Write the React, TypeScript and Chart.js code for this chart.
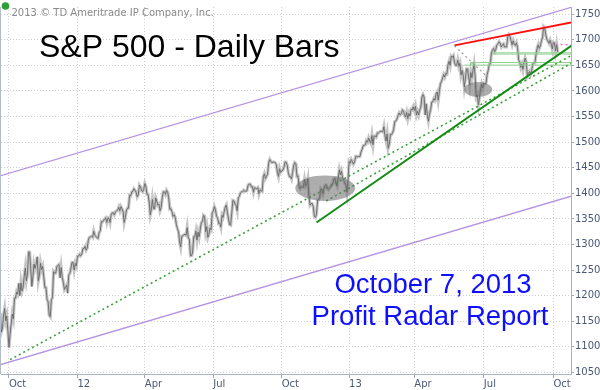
import React, { useEffect, useRef } from "react";
import { Chart, registerables } from "chart.js";

Chart.register(...registerables);

// ---- axis definitions (trading-day index, 0 = Oct 3 2011) ----
const TICK_INDEX = [0, 63, 125, 188, 251, 313, 373, 437, 501];
const TICK_LABELS = ["Oct", "12", "Apr", "Jul", "Oct", "13", "Apr", "Jul", "Oct"];
const Y_TICKS = [1050, 1100, 1150, 1200, 1250, 1300, 1350, 1400, 1450, 1500, 1550, 1600, 1650, 1700, 1750];
const FIRST_INDEX = -8; // Sep 21 2011

// ---- daily closes, S&P 500 ----
const SEP_2011 = [1166, 1129, 1136, 1162, 1175, 1151, 1160, 1131];
const OCT_2011 = [1099, 1124, 1144, 1164, 1155, 1195, 1195, 1207, 1203, 1224, 1200, 1225, 1209, 1216, 1238, 1254, 1229, 1242, 1285, 1285, 1253];
const NOV_2011 = [1218, 1237, 1262, 1253, 1261, 1276, 1229, 1240, 1263, 1251, 1257, 1237, 1216, 1216, 1193, 1188, 1162, 1159, 1192, 1196, 1247];
const DEC_2011 = [1244, 1244, 1257, 1259, 1261, 1235, 1255, 1236, 1226, 1212, 1216, 1220, 1205, 1241, 1243, 1254, 1265, 1265, 1250, 1263, 1258];
const JAN_2012 = [1277, 1277, 1281, 1278, 1281, 1292, 1292, 1296, 1289, 1293, 1308, 1314, 1315, 1316, 1314, 1326, 1318, 1316, 1313, 1312];
const FEB_2012 = [1324, 1326, 1345, 1344, 1347, 1350, 1352, 1343, 1352, 1351, 1343, 1358, 1362, 1362, 1358, 1364, 1366, 1367, 1373, 1366];
const MAR_2012 = [1374, 1370, 1364, 1343, 1353, 1366, 1371, 1371, 1396, 1395, 1403, 1404, 1409, 1406, 1402, 1393, 1397, 1416, 1413, 1405, 1403, 1408];
const APR_2012 = [1419, 1413, 1398, 1398, 1383, 1358, 1368, 1388, 1370, 1370, 1391, 1385, 1377, 1379, 1366, 1372, 1391, 1403, 1403, 1398];
const MAY_2012 = [1406, 1402, 1391, 1369, 1370, 1364, 1355, 1358, 1353, 1339, 1331, 1325, 1305, 1295, 1316, 1317, 1319, 1320, 1318, 1333, 1313, 1310];
const JUN_2012 = [1278, 1278, 1285, 1315, 1315, 1326, 1309, 1324, 1315, 1329, 1343, 1345, 1357, 1355, 1325, 1335, 1314, 1320, 1332, 1329, 1362];
const JUL_2012 = [1365, 1374, 1368, 1355, 1352, 1341, 1342, 1334, 1357, 1353, 1364, 1373, 1377, 1363, 1350, 1339, 1338, 1361, 1386, 1385, 1379];
const AUG_2012 = [1376, 1366, 1391, 1394, 1401, 1403, 1403, 1406, 1404, 1404, 1405, 1416, 1418, 1418, 1413, 1413, 1402, 1411, 1410, 1409, 1411, 1399, 1407];
const SEP_2012 = [1405, 1404, 1432, 1438, 1429, 1433, 1437, 1460, 1466, 1462, 1460, 1461, 1461, 1460, 1456, 1441, 1433, 1448, 1441];
const OCT_2012 = [1444, 1445, 1451, 1461, 1461, 1455, 1441, 1433, 1433, 1428, 1441, 1455, 1460, 1458, 1433, 1434, 1413, 1409, 1413, 1412, 1412];
const NOV_2012 = [1427, 1414, 1417, 1428, 1395, 1377, 1380, 1380, 1374, 1355, 1353, 1359, 1387, 1387, 1392, 1409, 1406, 1399, 1410, 1416, 1416];
const DEC_2012 = [1409, 1407, 1410, 1413, 1418, 1419, 1428, 1429, 1419, 1414, 1430, 1446, 1436, 1443, 1430, 1427, 1419, 1418, 1402, 1426];
const JAN_2013 = [1462, 1459, 1466, 1462, 1457, 1461, 1472, 1472, 1471, 1472, 1472, 1481, 1486, 1493, 1494, 1495, 1503, 1500, 1508, 1502, 1498];
const FEB_2013 = [1513, 1495, 1512, 1512, 1510, 1518, 1518, 1520, 1521, 1521, 1520, 1530, 1512, 1502, 1516, 1488, 1496, 1515, 1515];
const MAR_2013 = [1518, 1525, 1540, 1541, 1545, 1552, 1557, 1553, 1555, 1563, 1561, 1553, 1549, 1558, 1546, 1556, 1551, 1564, 1563, 1569];
const APR_2013 = [1562, 1570, 1553, 1560, 1553, 1563, 1568, 1588, 1593, 1588, 1553, 1575, 1552, 1541, 1555, 1563, 1578, 1579, 1585, 1582, 1594, 1598];
const MAY_2013 = [1582, 1598, 1614, 1618, 1625, 1632, 1627, 1634, 1633, 1651, 1658, 1650, 1668, 1666, 1669, 1655, 1650, 1650, 1660, 1648, 1654, 1631];
const JUN_2013 = [1640, 1631, 1608, 1623, 1643, 1643, 1627, 1612, 1636, 1626, 1640, 1652, 1628, 1588, 1592, 1573, 1588, 1603, 1613, 1606];
const JUL_2013 = [1615, 1614, 1615, 1632, 1640, 1652, 1653, 1675, 1680, 1683, 1677, 1681, 1690, 1692, 1696, 1693, 1686, 1690, 1692, 1686, 1686, 1686];
const AUG_2013 = [1706, 1710, 1707, 1698, 1690, 1698, 1691, 1689, 1694, 1685, 1661, 1656, 1646, 1652, 1642, 1656, 1664, 1657, 1630, 1635, 1638, 1633];
const SEP_2013 = [1640, 1653, 1655, 1655, 1671, 1683, 1690, 1683, 1688, 1698, 1704, 1725, 1722, 1710, 1701, 1697, 1693, 1699, 1692, 1682];
const OCT_2013 = [1695, 1694, 1678, 1691, 1676];

// ---- drawn trend lines: [index, price] pairs ----
const UPPER_CHANNEL = [[-10, 1433], [520, 1765]];
const LOWER_CHANNEL = [[-10, 1064], [520, 1396]];
const LONG_DOTTED = [[1, 1075], [520, 1672]];
const SECOND_DOTTED = [[292, 1385], [520, 1657]];
const SUPPORT_LINE = [[283, 1343], [520, 1692]];
const RESISTANCE_LINE = [[410, 1689], [520, 1735]];
const GREY_DOTTED = [[410, 1688], [439, 1630]];
const PINK_DOTTED = [[503, 1691], [520, 1690]];
const LEVEL_1674 = [[445, 1674.5], [520, 1674.5]];
const LEVEL_1672 = [[445, 1672], [520, 1672]];
const LEVEL_1655 = [[425, 1655.4], [520, 1655.4]];
const LEVEL_1650 = [[419, 1650.4], [520, 1650.4]];
const LEVEL_TICK = [[425, 1655.4], [425, 1650.4]];
// grey ellipses: [centre index, centre price, half-width in days, half-height in points]
const ELLIPSES = [[291, 1410, 27.5, 25], [431.7, 1603, 13, 14.5]];

const TITLE = "S&P 500 - Daily Bars";
const COPYRIGHT = "2013 \u00A9 TD Ameritrade IP Company, Inc.";
const NOTE_1 = "October 7, 2013";
const NOTE_2 = "Profit Radar Report";

const CLOSES = [
  ...SEP_2011, ...OCT_2011, ...NOV_2011, ...DEC_2011,
  ...JAN_2012, ...FEB_2012, ...MAR_2012, ...APR_2012, ...MAY_2012, ...JUN_2012,
  ...JUL_2012, ...AUG_2012, ...SEP_2012, ...OCT_2012, ...NOV_2012, ...DEC_2012,
  ...JAN_2013, ...FEB_2013, ...MAR_2013, ...APR_2013, ...MAY_2013, ...JUN_2013,
  ...JUL_2013, ...AUG_2013, ...SEP_2013, ...OCT_2013,
];

const toPts = (arr: number[][]) => arr.map(([x, y]) => ({ x, y }));

const AXIS_FONT = { family: "'DejaVu Sans', sans-serif", size: 10 };
const AXIS_COLOR = "#4a5875";

function seg(data: number[][], color: string, width: number, dash: number[] = []) {
  return {
    type: "line" as const,
    data: toPts(data),
    borderColor: color,
    borderWidth: width,
    borderDash: dash,
    pointRadius: 0,
    tension: 0,
    fill: false,
  };
}

const overlayPlugin = {
  id: "overlay",
  afterDatasetsDraw(chart: any) {
    const { ctx, chartArea, scales } = chart;
    const xs = scales.x;
    const ys = scales.y;
    ctx.save();
    ctx.beginPath();
    ctx.rect(chartArea.left, chartArea.top, chartArea.right - chartArea.left, chartArea.bottom - chartArea.top);
    ctx.clip();
    for (const [ex, ey, erx, ery] of ELLIPSES) {
      const cx = xs.getPixelForValue(ex);
      const cy = ys.getPixelForValue(ey);
      const rx = Math.abs(xs.getPixelForValue(ex + erx) - cx);
      const ry = Math.abs(ys.getPixelForValue(ey + ery) - cy);
      ctx.beginPath();
      ctx.ellipse(cx, cy, rx, ry, 0, 0, Math.PI * 2);
      ctx.fillStyle = "rgba(105,105,105,0.55)";
      ctx.fill();
    }
    ctx.restore();
  },
  afterDraw(chart: any) {
    const { ctx, chartArea } = chart;
    ctx.save();
    // left frame line
    ctx.strokeStyle = "#b4bccb";
    ctx.lineWidth = 1;
    ctx.beginPath();
    ctx.moveTo(chartArea.left - 0.5, chartArea.top);
    ctx.lineTo(chartArea.left - 0.5, chartArea.bottom);
    ctx.stroke();
    // cover lower half of the bottom price label, as in the original
    ctx.fillStyle = "#ffffff";
    ctx.fillRect(chartArea.right + 2, chartArea.bottom + 2, 40, 20);
    // small green badge
    ctx.beginPath();
    ctx.arc(5.5, 6, 3.8, 0, Math.PI * 2);
    ctx.fillStyle = "#2f9e36";
    ctx.fill();
    // texts
    ctx.textBaseline = "alphabetic";
    ctx.textAlign = "left";
    ctx.fillStyle = "#8a8a8a";
    ctx.font = "10px 'DejaVu Sans', sans-serif";
    ctx.fillText(COPYRIGHT, 11.5, 15.5);
    ctx.fillStyle = "#000000";
    ctx.font = "32px 'Liberation Sans', Arial, sans-serif";
    ctx.fillText(TITLE, 39, 57);
    ctx.fillStyle = "#0f0fff";
    ctx.font = "27.5px 'Liberation Sans', Arial, sans-serif";
    ctx.textAlign = "center";
    ctx.fillText(NOTE_1, 433, 293);
    ctx.fillText(NOTE_2, 430, 325);
    ctx.restore();
  },
};

export default function App() {
  const ref = useRef<HTMLCanvasElement>(null);
  useEffect(() => {
    if (!ref.current) return;
    const pricePts = CLOSES.map((v, i) => ({ x: FIRST_INDEX + i, y: v }));
    const chart = new Chart(ref.current, {
      type: "line",
      data: {
        datasets: [
          seg(SUPPORT_LINE, "#138a13", 2),
          seg(RESISTANCE_LINE, "#ff1010", 2),
          seg(LONG_DOTTED, "#3aa33a", 1.6, [2, 3]),
          seg(SECOND_DOTTED, "#3aa33a", 1.6, [2, 3]),
          seg(GREY_DOTTED, "#9a9a9a", 1.2, [2, 3]),
          seg(PINK_DOTTED, "#ff66d0", 1.4, [2, 3]),
          seg(LEVEL_1674, "#8ccf8c", 1),
          seg(LEVEL_1672, "#8ccf8c", 1),
          seg(LEVEL_1655, "#8ccf8c", 1),
          seg(LEVEL_1650, "#8ccf8c", 1),
          seg(LEVEL_TICK, "#8ccf8c", 1),
          {
            type: "line" as const,
            data: pricePts,
            borderColor: "#666666",
            borderWidth: 0.9,
            pointRadius: 0,
            tension: 0,
            fill: false,
          },
          {
            type: "line" as const,
            data: pricePts,
            borderColor: "#c6c6c6",
            borderWidth: 3.2,
            pointRadius: 0,
            tension: 0,
            fill: false,
          },
          seg(UPPER_CHANNEL, "#b793e3", 1.3),
          seg(LOWER_CHANNEL, "#b793e3", 1.3),
        ] as any,
      },
      options: {
        animation: false,
        responsive: false,
        maintainAspectRatio: false,
        layout: { padding: { left: 1, top: 0, right: 0, bottom: 0 } },
        plugins: { legend: { display: false }, tooltip: { enabled: false }, title: { display: false } },
        events: [],
        scales: {
          x: {
            type: "linear",
            min: -7.35,
            max: 517.2,
            afterBuildTicks: (s: any) => {
              s.ticks = TICK_INDEX.map((v) => ({ value: v }));
            },
            afterFit: (s: any) => {
              s.height = 16;
            },
            ticks: {
              autoSkip: false,
              maxRotation: 0,
              align: "start",
              padding: 0,
              font: AXIS_FONT,
              color: AXIS_COLOR,
              callback: (v: any) => {
                const k = TICK_INDEX.indexOf(Number(v));
                return k >= 0 ? TICK_LABELS[k] : "";
              },
            },
            grid: { color: "#cfcfcf", lineWidth: 1, tickLength: 4, tickColor: "#9ea7b8" },
            border: { color: "#a9b1c2", width: 1, dash: [1, 2] },
          },
          y: {
            type: "linear",
            position: "right",
            min: 1047,
            max: 1764,
            afterBuildTicks: (s: any) => {
              s.ticks = Y_TICKS.map((v) => ({ value: v }));
            },
            afterFit: (s: any) => {
              s.width = 29;
            },
            ticks: {
              padding: 1,
              font: AXIS_FONT,
              color: AXIS_COLOR,
              callback: (v: any) => String(v),
            },
            grid: { color: "#cfcfcf", lineWidth: 1, tickLength: 3, tickColor: "#9ea7b8" },
            border: { color: "#a9b1c2", width: 1, dash: [1, 2] },
          },
        },
      } as any,
      plugins: [overlayPlugin],
    });
    return () => chart.destroy();
  }, []);
  return (
    <div style={{ position: "absolute", left: 0, top: 0, width: 600, height: 390, background: "#fff" }}>
      <canvas ref={ref} width={600} height={390} style={{ display: "block" }} />
    </div>
  );
}
